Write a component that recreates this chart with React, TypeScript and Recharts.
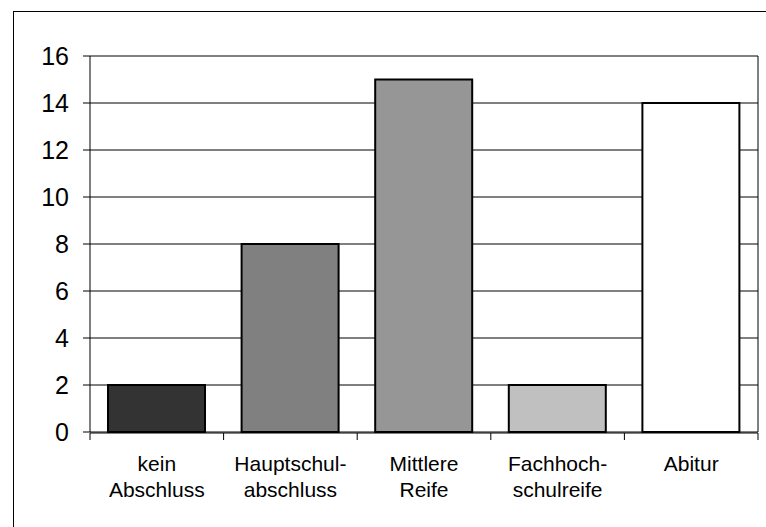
import { BarChart, Bar, Cell, XAxis, YAxis, CartesianGrid, ReferenceLine } from 'recharts'

const categories = ['kein\nAbschluss', 'Hauptschul-\nabschluss', 'Mittlere\nReife', 'Fachhoch-\nschulreife', 'Abitur']
const counts = [2, 8, 15, 2, 14]
const fills = ['#333333', '#808080', '#969696', '#c0c0c0', '#ffffff']
const yTicks = [0, 2, 4, 6, 8, 10, 12, 14, 16]
// boundaries between the categories, used for the small tick marks under the axis
const edgeTicks = [0, 1, 2, 3, 4, 5]

const data = categories.map((name, i) => ({ name, value: counts[i], edge: 0 }))

const FONT = '"Liberation Sans", Arial, sans-serif'

// two-line category label, drawn well below the axis line
const CategoryTick = (props: any) => {
  const { x, y, payload } = props
  const lines = String(payload.value).split('\n')
  return (
    <text x={x} y={y} textAnchor="middle" fontFamily={FONT} fontSize={21} fill="#000">
      {lines.map((line, i) => (
        <tspan key={i} x={x} y={y + 39 + i * 26}>
          {line}
        </tspan>
      ))}
    </text>
  )
}

const NoLabel = () => <g />

export default function App() {
  return (
    <div style={{ position: 'fixed', left: 0, top: 0, width: 766, height: 527, background: '#fff', overflow: 'hidden' }}>
      <div
        style={{
          position: 'absolute',
          left: 13,
          top: 11,
          right: -10,
          bottom: -10,
          borderLeft: '1.5px solid #000',
          borderTop: '1.5px solid #000',
        }}
      />
      <div style={{ position: 'absolute', left: 0, top: 0 }}>
        <BarChart
          width={766}
          height={527}
          data={data}
          margin={{ top: 56, right: 8, bottom: 93, left: 0 }}
          barSize={97}
        >
          <CartesianGrid vertical={false} stroke="#000" strokeWidth={1} />
          <XAxis
            dataKey="name"
            interval={0}
            tick={<CategoryTick />}
            tickLine={false}
            tickSize={0}
            tickMargin={0}
            axisLine={false}
            height={1}
          />
          <XAxis
            xAxisId="edges"
            type="number"
            dataKey="edge"
            scale="linear"
            domain={[0, 5]}
            ticks={edgeTicks}
            interval={0}
            tick={<NoLabel />}
            tickSize={7}
            tickLine={{ stroke: '#000' }}
            axisLine={{ stroke: '#000' }}
            height={1}
          />
          <YAxis
            domain={[0, 16]}
            ticks={yTicks}
            width={90}
            tickSize={7}
            tickMargin={14}
            tickLine={{ stroke: '#000' }}
            axisLine={{ stroke: '#000' }}
            tick={{ fill: '#000', fontSize: 25, fontFamily: FONT }}
          />
          <ReferenceLine xAxisId="edges" x={5} stroke="#000" strokeWidth={1} />
          <Bar dataKey="value" stroke="#000" strokeWidth={2} isAnimationActive={false}>
            {data.map((entry, i) => (
              <Cell key={entry.name} fill={fills[i]} />
            ))}
          </Bar>
        </BarChart>
      </div>
    </div>
  )
}
